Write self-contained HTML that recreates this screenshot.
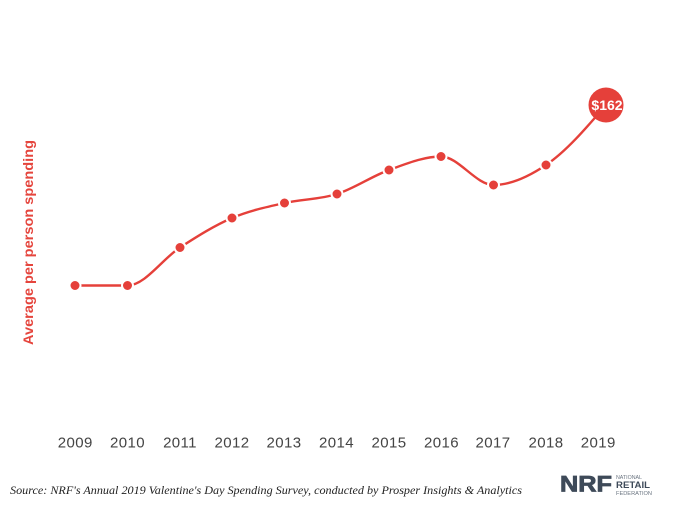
<!DOCTYPE html>
<html>
<head>
<meta charset="utf-8">
<style>
  html, body { margin:0; padding:0; background:#fff; }
  body { width:692px; height:522px; overflow:hidden; position:relative; }
  svg { position:absolute; left:0; top:0; }
</style>
</head>
<body>
<svg width="692" height="522" viewBox="0 0 692 522" xmlns="http://www.w3.org/2000/svg">
  <rect width="692" height="522" fill="#ffffff"/>
  <!-- Y axis label -->
  <text transform="translate(33,242.5) rotate(-90)" text-anchor="middle" font-family="Liberation Sans, sans-serif" font-weight="bold" font-size="14" fill="#e5453d" textLength="205" lengthAdjust="spacingAndGlyphs">Average per person spending</text>

  <!-- curve -->
  <path fill="none" stroke="#e5403a" stroke-width="2.4" d="
    M75,285.5
    C92.5,285.5 110,285.5 127.5,285.5
    C145,285.5 162.5,258.8 180,247.5
    C197.33,236.31 214.67,225.39 232,218
    C249.5,210.54 267,207 284.5,203
    C302,199 319.5,199.54 337,194
    C354.33,188.51 371.67,176.25 389,170
    C406.33,163.75 423.67,156.5 441,156.5
    C458.5,156.5 476,185 493.5,185
    C511,185 528.5,176.73 546,165
    C566,151.6 586,128.3 606,105"/>

  <!-- dots -->
  <g fill="#e5403a" stroke="#ffffff" stroke-width="2">
    <circle cx="75" cy="285.5" r="5.5"/>
    <circle cx="127.5" cy="285.5" r="5.5"/>
    <circle cx="180" cy="247.5" r="5.5"/>
    <circle cx="232" cy="218" r="5.5"/>
    <circle cx="284.5" cy="203" r="5.5"/>
    <circle cx="337" cy="194" r="5.5"/>
    <circle cx="389" cy="170" r="5.5"/>
    <circle cx="441" cy="156.5" r="5.5"/>
    <circle cx="493.5" cy="185" r="5.5"/>
    <circle cx="546" cy="165" r="5.5"/>
  </g>
  <circle cx="606" cy="105" r="17.5" fill="#e5403a"/>
  <text x="607" y="110" text-anchor="middle" font-family="Liberation Sans, sans-serif" font-weight="bold" font-size="14" fill="#ffffff">$162</text>

  <!-- x labels -->
  <g font-family="Liberation Sans, sans-serif" font-size="15" fill="#444" text-anchor="middle" letter-spacing="0.4">
    <text x="75.3" y="447.5">2009</text>
    <text x="127.5" y="447.5">2010</text>
    <text x="180" y="447.5">2011</text>
    <text x="232" y="447.5">2012</text>
    <text x="284" y="447.5">2013</text>
    <text x="336.5" y="447.5">2014</text>
    <text x="389" y="447.5">2015</text>
    <text x="441.5" y="447.5">2016</text>
    <text x="493" y="447.5">2017</text>
    <text x="546" y="447.5">2018</text>
    <text x="598.3" y="447.5">2019</text>
  </g>

  <!-- source -->
  <text x="10" y="494" font-family="Liberation Serif, serif" font-style="italic" font-size="12" fill="#222" textLength="512" lengthAdjust="spacingAndGlyphs">Source: NRF's Annual 2019 Valentine's Day Spending Survey, conducted by Prosper Insights &amp; Analytics</text>

  <!-- NRF logo -->
  <text x="560" y="491.5" font-family="Liberation Sans, sans-serif" font-weight="bold" font-size="22" fill="#3e4a59" stroke="#3e4a59" stroke-width="0.8" textLength="52" lengthAdjust="spacingAndGlyphs">NRF</text>
  <text x="616" y="479" font-family="Liberation Sans, sans-serif" font-size="5" fill="#6a7480" textLength="26" lengthAdjust="spacingAndGlyphs">NATIONAL</text>
  <text x="616" y="488" font-family="Liberation Sans, sans-serif" font-weight="bold" font-size="9" fill="#3e4a59" textLength="34" lengthAdjust="spacingAndGlyphs">RETAIL</text>
  <text x="616" y="495" font-family="Liberation Sans, sans-serif" font-size="5" fill="#6a7480" textLength="36" lengthAdjust="spacingAndGlyphs">FEDERATION</text>
</svg>
</body>
</html>
